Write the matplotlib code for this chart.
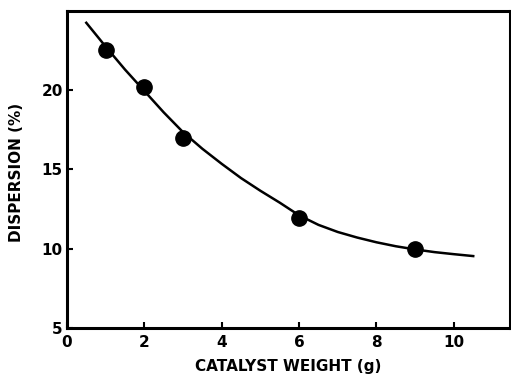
import numpy as np
import matplotlib
matplotlib.use("Agg")
import matplotlib.pyplot as plt

# measured points
weight = [1, 2, 3, 6, 9]
dispersion = [22.55, 20.2, 16.95, 11.95, 9.95]

# smooth curve
curve_x = [0.5, 1.0, 1.5, 2.0, 2.5, 3.0, 3.5, 4.0, 4.5, 5.0, 5.5,
           6.0, 6.5, 7.0, 7.5, 8.0, 8.5, 9.0, 9.5, 10.0, 10.5]
curve_y = [24.25, 22.75, 21.3, 19.95, 18.6, 17.35, 16.3, 15.35, 14.45, 13.65, 12.9,
           12.1, 11.5, 11.05, 10.7, 10.4, 10.15, 9.95, 9.78, 9.65, 9.53]

xticks = [0, 2, 4, 6, 8, 10]
yticks = [5, 10, 15, 20]

plt.rcParams['font.family'] = ['DejaVu Sans']
plt.rcParams['font.weight'] = 'bold'

fig = plt.figure(figsize=(5.11, 3.76), dpi=100)
ax = fig.add_axes([0.131, 0.128, 0.867, 0.843])

ax.plot(curve_x, curve_y, color='black', lw=1.8, zorder=2)
ax.plot(weight, dispersion, 'o', color='black', ms=11, zorder=3)

ax.set_xlim(0, 11.45)
ax.set_ylim(5, 25)
ax.set_xticks(xticks)
ax.set_yticks(yticks)
ax.tick_params(direction='in', length=4, width=1.5, labelsize=11)
ax.tick_params(axis='x', pad=5)
ax.tick_params(axis='y', pad=3)
for lab in ax.get_xticklabels() + ax.get_yticklabels():
    lab.set_fontweight('bold')

for s in ax.spines.values():
    s.set_linewidth(2.2)

ax.set_xlabel('CATALYST WEIGHT (g)', fontsize=11, fontweight='bold')
ax.set_ylabel('DISPERSION (%)', fontsize=11, fontweight='bold')
ax.xaxis.set_label_coords(0.5, -0.098)
ax.yaxis.set_label_coords(-0.097, 0.49)

fig.savefig('out.png', dpi=100)
